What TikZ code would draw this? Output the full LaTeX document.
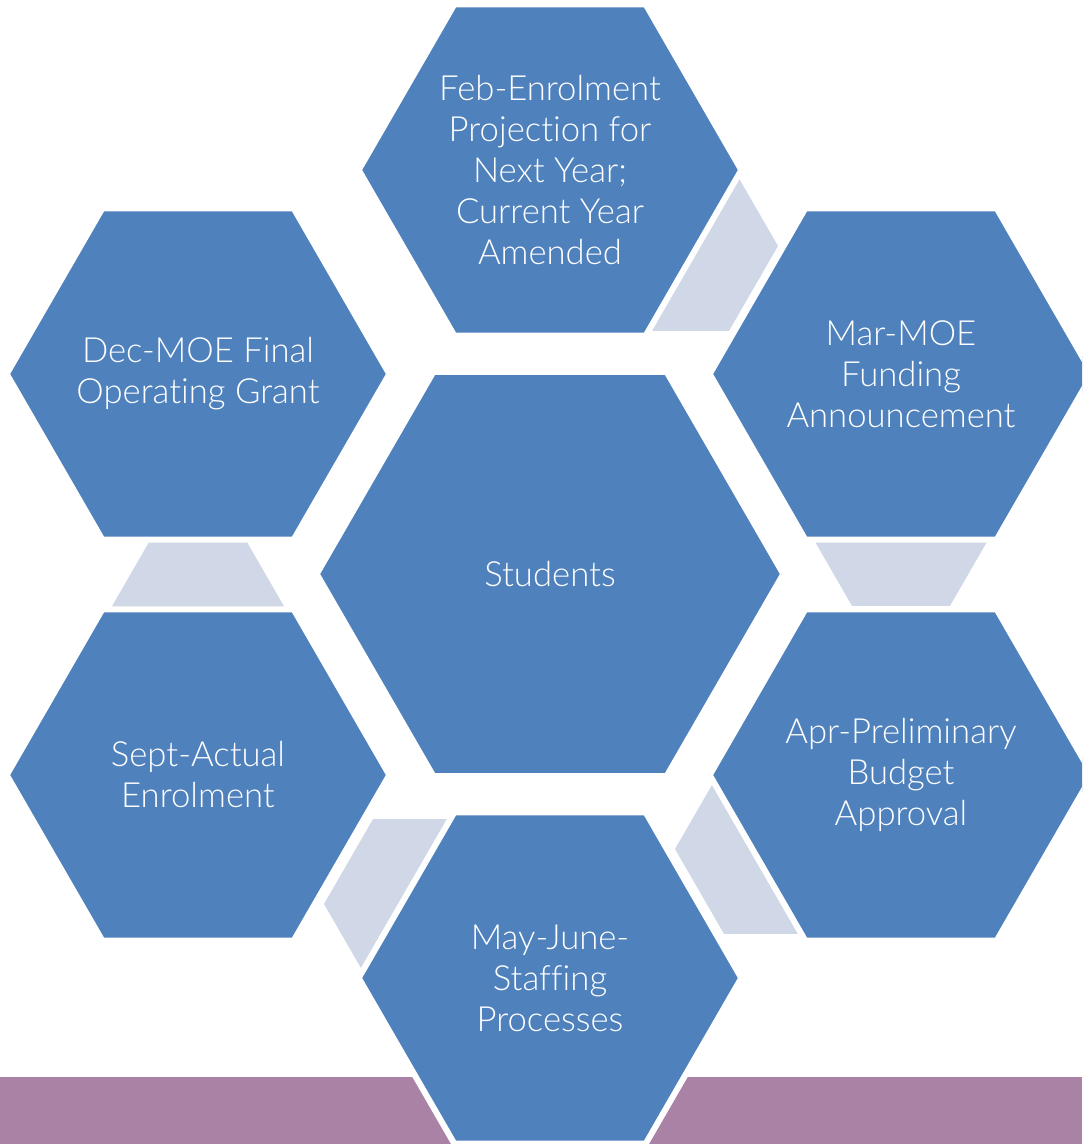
\documentclass[tikz,border=0pt]{standalone}
\usepackage{fontspec}
\setmainfont{Lato}[UprightFont=* Light, Ligatures=NoCommon]
\usetikzlibrary{shapes.geometric}
\definecolor{hexblue}{RGB}{79,129,189}
\definecolor{linkgrey}{RGB}{208,216,232}
\definecolor{bandpurple}{RGB}{169,130,166}

\tikzset{
  stage/.style={regular polygon, regular polygon sides=6, fill=hexblue, draw=white,
    line width=4.5pt, inner sep=0pt, minimum size=287pt},
  hub/.style={stage, minimum size=350pt},
  link/.style={regular polygon, regular polygon sides=6, fill=linkgrey, draw=none,
    inner sep=0pt, minimum size=147pt},
  caption/.style={text=white, align=center, inner sep=0pt,
    font=\fontsize{26}{30.75}\selectfont},
}

\begin{document}
\begin{tikzpicture}[x=0.75pt, y=-0.75pt]
  \clip (0,0) rectangle (1082,1144);

  % Band at the bottom
  \fill[bandpurple] (0,1077) rectangle (1082,1144);

  % Links between the stages
  \node[link] (febmar) at (680,246) {};
  \node[link] (marapr) at (901,521) {};
  \node[link] (aprmay) at (773,849) {};
  \node[link] (maysept) at (422,904) {};
  \node[link] (septdec) at (198,627) {};

  % Centre
  \node[hub] (students) at (550,574) {};
  \node[caption] (students-text) at (students.center) {Students};

  % Stages round the centre
  \node[stage] (feb) at (550,170) {};
  \node[caption] (feb-text) at (feb.center) {Feb-Enrolment\\Projection for\\Next Year;\\Current Year\\Amended};
  \node[stage] (mar) at (901,374) {};
  \node[caption] (mar-text) at (mar.center) {Mar-MOE\\Funding\\Announcement};
  \node[stage] (apr) at (901,775) {};
  \node[caption] (apr-text) at (apr.center) {Apr-Preliminary\\Budget\\Approval};
  \node[stage] (may) at (550,978) {};
  \node[caption] (may-text) at (may.center) {May-June-\\Staffing\\Processes};
  \node[stage] (sept) at (198,775) {};
  \node[caption] (sept-text) at (sept.center) {Sept-Actual\\Enrolment};
  \node[stage] (dec) at (198,374) {};
  \node[caption] (dec-text) at (dec.center) {Dec-MOE Final\\Operating Grant};
\end{tikzpicture}
\end{document}
